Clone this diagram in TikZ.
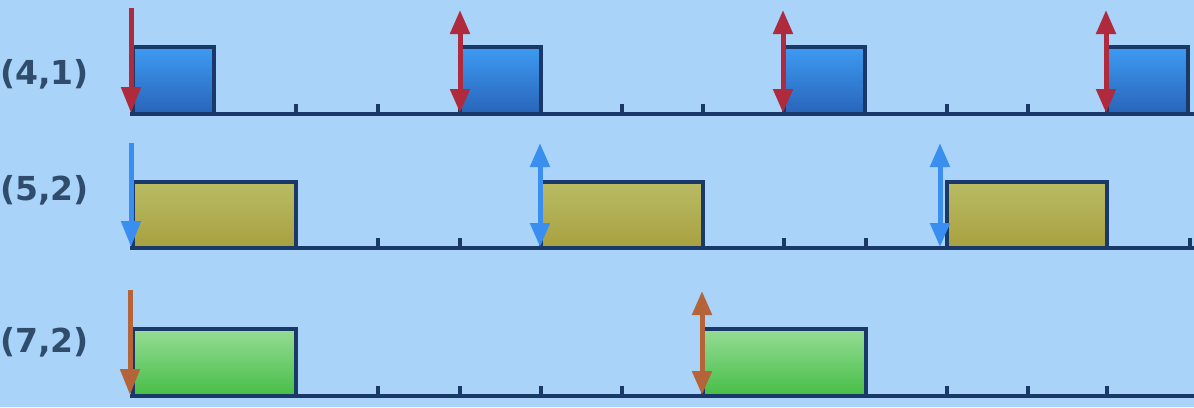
\documentclass[tikz,border=0pt]{standalone}
\usepackage{fontspec}
\setmainfont{DejaVu Sans}
\usetikzlibrary{arrows.meta}
\definecolor{bg}{HTML}{A9D3F8}
\definecolor{axisc}{HTML}{1A3868}
\definecolor{labc}{HTML}{2F4C6C}
\definecolor{arred}{HTML}{AE2A3C}
\definecolor{arblue}{HTML}{3A8EF0}
\definecolor{arbrown}{HTML}{B5643A}
\tikzset{
  axisline/.style={axisc, line width=4pt},
  tick/.style={axisc, line width=3.5pt},
  job/.style={draw=axisc, line width=3.5pt},
  bluejob/.style={job, top color={rgb,255:red,62;green,155;blue,242}, bottom color={rgb,255:red,40;green,100;blue,185}},
  yjob/.style={job, top color={rgb,255:red,185;green,188;blue,100}, bottom color={rgb,255:red,168;green,160;blue,64}},
  gjob/.style={job, top color={rgb,255:red,150;green,220;blue,150}, bottom color={rgb,255:red,70;green,190;blue,70}},
  dn/.style={line width=5pt, -{Triangle[width=19pt,length=26pt]}},
  updn/.style={line width=5pt, {Triangle[width=19pt,length=24pt]}-{Triangle[width=19pt,length=24pt]}},
  lab/.style={text=labc, font=\bfseries\fontsize{33}{33}\selectfont, anchor=west, inner sep=0pt}
}
\begin{document}
\begin{tikzpicture}[x=1pt,y=-1pt]
\fill[bg] (0,0) rectangle (1194,407);
\useasboundingbox (0,0) rectangle (1194,407);
% labels
\node[lab] (l1) at (0,74) {(4,1)};
\node[lab] (l2) at (0,190) {(5,2)};
\node[lab] (l3) at (0,342) {(7,2)};
% row 1
\foreach \a in {133,460,784,1107}
  \shade[bluejob] (\a,47) rectangle ++(81,67);
\draw[axisline] (130,114) -- (1194,114);
\foreach \t in {296,378,622,703,947,1028}
  \draw[tick] (\t,114) -- (\t,104);
\draw[dn, arred] (131,8) -- (131,113);
\foreach \a in {460,783,1106}
  \draw[updn, arred] (\a,10) -- (\a,113);
% row 2
\foreach \a/\b in {133/296,541/703,947/1107}
  \shade[yjob] (\a,182) rectangle (\b,248);
\draw[axisline] (130,248) -- (1194,248);
\foreach \t in {378,460,784,866,1190}
  \draw[tick] (\t,248) -- (\t,238);
\draw[dn, arblue] (131,143) -- (131,247);
\foreach \a in {540,940}
  \draw[updn, arblue] (\a,143) -- (\a,247);
% row 3
\foreach \a/\b in {133/296,703/866}
  \shade[gjob] (\a,329) rectangle (\b,396);
\draw[axisline] (130,396) -- (1194,396);
\foreach \t in {378,460,541,622,947,1028,1107}
  \draw[tick] (\t,396) -- (\t,386);
\draw[dn, arbrown] (130,290) -- (130,395);
\draw[updn, arbrown] (702,291) -- (702,395);
\end{tikzpicture}
\end{document}
